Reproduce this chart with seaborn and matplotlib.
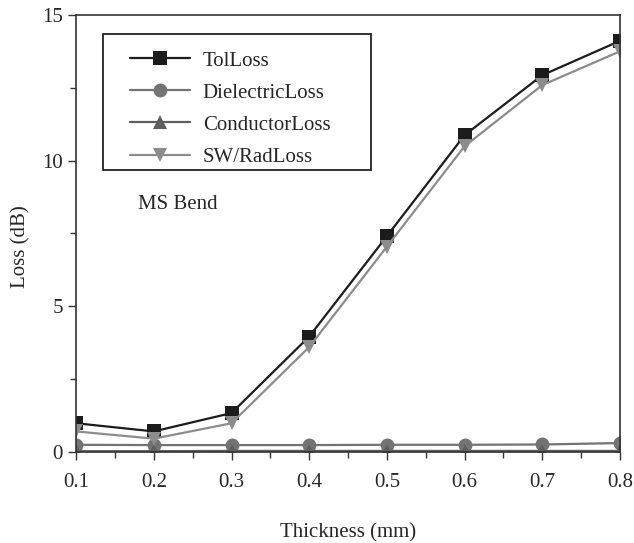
import numpy as np
import pandas as pd
import seaborn as sns
import matplotlib.pyplot as plt
from matplotlib.patches import Rectangle

# data
thickness = [0.1, 0.2, 0.3, 0.4, 0.5, 0.6, 0.7, 0.8]
tol_loss = [0.98, 0.70, 1.33, 3.96, 7.41, 10.88, 12.94, 14.12]
dielectric_loss = [0.24, 0.23, 0.23, 0.23, 0.24, 0.24, 0.25, 0.30]
conductor_loss = [0.02, 0.02, 0.03, 0.03, 0.03, 0.03, 0.03, 0.03]
sw_rad_loss = [0.70, 0.45, 0.98, 3.60, 7.05, 10.50, 12.60, 13.76]

series = ["TolLoss", "DielectricLoss", "ConductorLoss", "SW/RadLoss"]
values = [tol_loss, dielectric_loss, conductor_loss, sw_rad_loss]

df = pd.DataFrame({
    "Thickness": thickness * len(series),
    "Loss": np.concatenate(values),
    "Series": np.repeat(series, len(thickness)),
})

sns.set_style("ticks")
plt.rcParams["font.family"] = ["Liberation Serif", "DejaVu Serif"]

palette = {"TolLoss": "#1c1c1c", "DielectricLoss": "#737373",
           "ConductorLoss": "#5e5e5e", "SW/RadLoss": "#8c8c8c"}
markers = {"TolLoss": "s", "DielectricLoss": "o",
           "ConductorLoss": "^", "SW/RadLoss": "v"}

fig = plt.figure(figsize=(6.34, 5.43), dpi=100)
ax = fig.add_axes([0.12, 0.168, 0.858, 0.804])

sns.lineplot(data=df, x="Thickness", y="Loss", hue="Series", style="Series",
             palette=palette, markers=markers, dashes=False, hue_order=series,
             style_order=series, linewidth=1.6, markersize=10,
             markeredgewidth=0, ax=ax)

ax.set_xlim(0.1, 0.8)
ax.set_ylim(0, 15)
ax.set_xticks(thickness)
ax.set_xticks(np.arange(0.15, 0.8, 0.1), minor=True)
ax.set_yticks([0, 5, 10, 15])
ax.set_yticks([2.5, 7.5, 12.5], minor=True)
ax.tick_params(axis="both", which="major", length=6, width=1, labelsize=15,
               color="#333333")
ax.tick_params(axis="both", which="minor", length=4, width=1, color="#333333")
ax.tick_params(axis="x", pad=9)
for s in ax.spines.values():
    s.set_color("#333333")
    s.set_linewidth(1.2)

ax.set_xlabel("Thickness (mm)", fontsize=15, labelpad=23)
ax.set_ylabel("Loss (dB)", fontsize=15)
ax.yaxis.set_label_coords(-0.084, 0.471)

ax.text(0.18, 8.48, "MS Bend", fontsize=15, ha="left", va="center")

# legend without its own frame, boxed by a rectangle like the original
leg = ax.legend(loc="upper left", bbox_to_anchor=(0.099, 0.918),
                borderaxespad=0, borderpad=0, fontsize=15, handlelength=2.9,
                handletextpad=0.6, labelspacing=0.6, frameon=False,
                markerscale=1.0)
ax.add_patch(Rectangle((0.0496, 0.645), 0.493, 0.3115, transform=ax.transAxes,
                       facecolor="white", edgecolor="#222222", linewidth=1.3,
                       zorder=4))
leg.set_zorder(5)

fig.savefig("out.png", dpi=100)
